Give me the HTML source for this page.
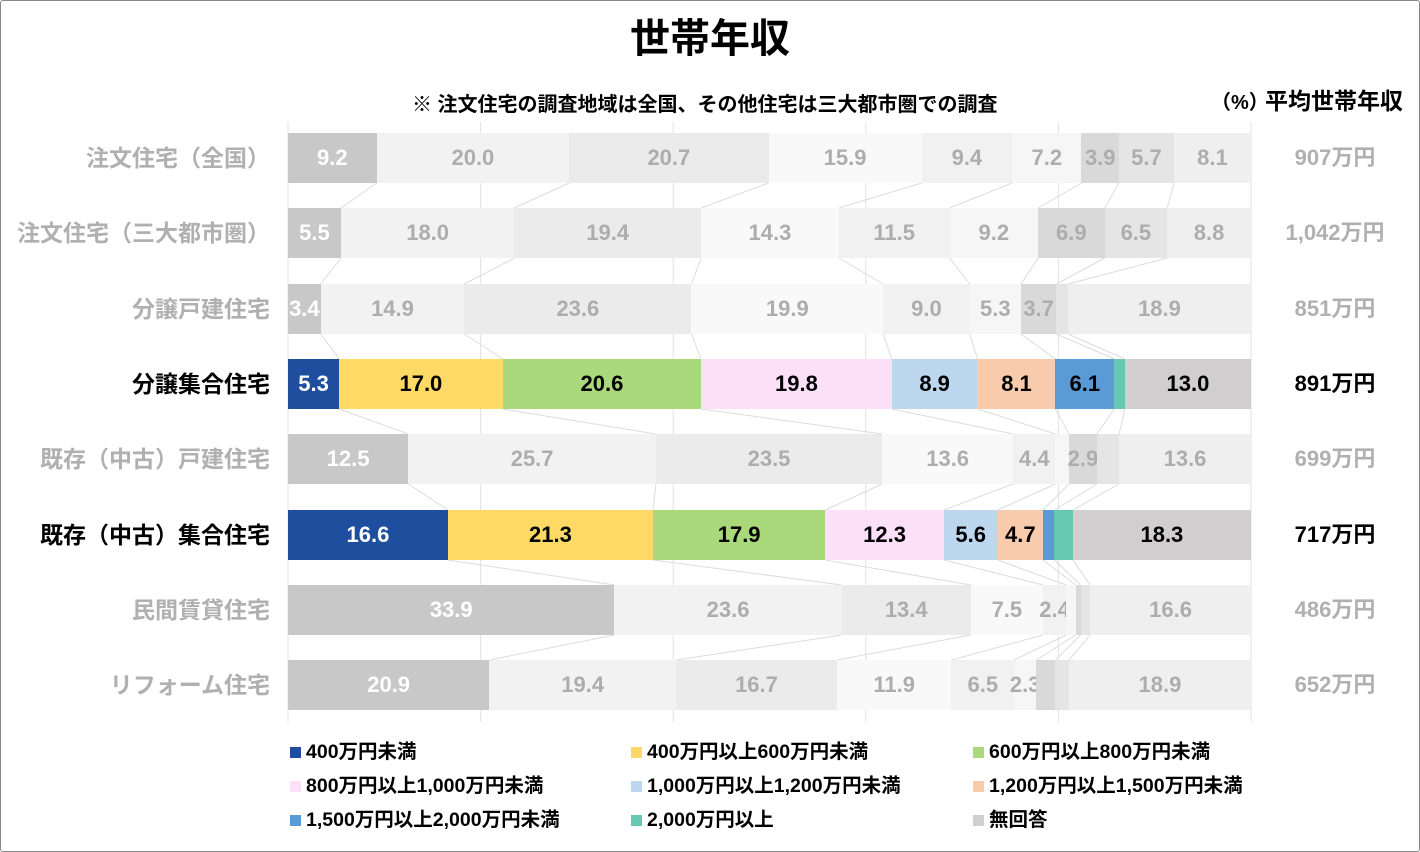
<!DOCTYPE html>
<html><head><meta charset="utf-8">
<style>
*{margin:0;padding:0;box-sizing:border-box}
body{width:1420px;height:852px;background:#fff;font-family:"Liberation Sans","Noto Sans CJK JP",sans-serif;position:relative;overflow:hidden}
.frame{position:absolute;left:0;top:0;width:1420px;height:852px;border:1px solid #888;border-radius:3px}
.abs{position:absolute;white-space:nowrap}
.bar{position:absolute;left:288px;width:963px;height:50px;display:flex}
.bar div{height:50px;line-height:50px;text-align:center;font-size:22px;font-weight:bold;white-space:nowrap;overflow:visible;display:flex;justify-content:center;flex-shrink:0}
.bar div:last-child{flex:1}
.f div{color:#adadad}
.f .a{background:#c8c8c8;color:#fff}.f .b{background:#f2f2f2}.f .c{background:#ebebeb}.f .d{background:#f9f9f9}.f .e{background:#f1f1f1}.f .g{background:#f6f6f6}.f .h{background:#d9d9d9}.f .i{background:#e5e5e5}.f .j{background:#efefef}
.k div{color:#000}
.k .a{background:#1f4e9f;color:#fff}.k .b{background:#ffd966}.k .c{background:#a9d97a}.k .d{background:#fbe0f8}.k .e{background:#bdd7ee}.k .g{background:#f8cbad}.k .h{background:#5b9bd5}.k .i{background:#66c8b0}.k .j{background:#d0cece}
.lab{position:absolute;right:1150px;font-size:23px;font-weight:bold;height:50px;line-height:50px;text-align:right;white-space:nowrap}
.val{position:absolute;left:1265px;width:140px;font-size:22px;font-weight:bold;height:50px;line-height:50px;text-align:center}
.fc{color:#b0b0b0}.kc{color:#000}
.lg{position:absolute;font-size:19.5px;font-weight:bold;white-space:nowrap;line-height:20px}
.lg span{display:inline-block;width:11px;height:11px;margin-right:5px;vertical-align:0px}
</style></head><body>
<div class="frame"></div>
<div class="abs" style="left:0;width:1420px;text-align:center;top:6px;font-size:40px;font-weight:bold;">世帯年収</div>
<div class="abs" style="left:412px;top:88px;font-size:20px;font-weight:bold;">※ 注文住宅の調査地域は全国、その他住宅は三大都市圏での調査</div>
<div class="abs" style="left:1211px;top:86px;font-size:20px;font-weight:bold;">（%）</div>
<div class="abs" style="left:1265px;top:82px;font-size:23px;font-weight:bold;">平均世帯年収</div>

<svg class="abs" style="left:0;top:0" width="1420" height="852" id="grid">
<g stroke="#e2e2e2" stroke-width="1">
<line x1="288" y1="122" x2="288" y2="722"/><line x1="480.6" y1="122" x2="480.6" y2="722"/><line x1="673.2" y1="122" x2="673.2" y2="722"/><line x1="865.8" y1="122" x2="865.8" y2="722"/><line x1="1058.4" y1="122" x2="1058.4" y2="722"/><line x1="1251" y1="122" x2="1251" y2="722"/>
</g><g id="conn" stroke="#dcdcdc" stroke-width="1"></g></svg>

<div class="bar f" style="top:133px"><div class="a" style="width:9.2%">9.2</div><div class="b" style="width:20%">20.0</div><div class="c" style="width:20.7%">20.7</div><div class="d" style="width:15.9%">15.9</div><div class="e" style="width:9.4%">9.4</div><div class="g" style="width:7.2%">7.2</div><div class="h" style="width:3.9%">3.9</div><div class="i" style="width:5.7%">5.7</div><div class="j">8.1</div></div>
<div class="bar f" style="top:208px"><div class="a" style="width:5.5%">5.5</div><div class="b" style="width:18%">18.0</div><div class="c" style="width:19.4%">19.4</div><div class="d" style="width:14.3%">14.3</div><div class="e" style="width:11.5%">11.5</div><div class="g" style="width:9.2%">9.2</div><div class="h" style="width:6.9%">6.9</div><div class="i" style="width:6.5%">6.5</div><div class="j">8.8</div></div>
<div class="bar f" style="top:284px"><div class="a" style="width:3.4%">3.4</div><div class="b" style="width:14.9%">14.9</div><div class="c" style="width:23.6%">23.6</div><div class="d" style="width:19.9%">19.9</div><div class="e" style="width:9%">9.0</div><div class="g" style="width:5.3%">5.3</div><div class="h" style="width:3.7%">3.7</div><div class="i" style="width:1.2%"></div><div class="j">18.9</div></div>
<div class="bar k" style="top:359px"><div class="a" style="width:5.3%">5.3</div><div class="b" style="width:17%">17.0</div><div class="c" style="width:20.6%">20.6</div><div class="d" style="width:19.8%">19.8</div><div class="e" style="width:8.9%">8.9</div><div class="g" style="width:8.1%">8.1</div><div class="h" style="width:6.1%">6.1</div><div class="i" style="width:1.1%"></div><div class="j">13.0</div></div>
<div class="bar f" style="top:434px"><div class="a" style="width:12.5%">12.5</div><div class="b" style="width:25.7%">25.7</div><div class="c" style="width:23.5%">23.5</div><div class="d" style="width:13.6%">13.6</div><div class="e" style="width:4.4%">4.4</div><div class="g" style="width:1.4%"></div><div class="h" style="width:2.9%">2.9</div><div class="i" style="width:2.3%"></div><div class="j">13.6</div></div>
<div class="bar k" style="top:510px"><div class="a" style="width:16.6%">16.6</div><div class="b" style="width:21.3%">21.3</div><div class="c" style="width:17.9%">17.9</div><div class="d" style="width:12.3%">12.3</div><div class="e" style="width:5.6%">5.6</div><div class="g" style="width:4.7%">4.7</div><div class="h" style="width:1.2%"></div><div class="i" style="width:1.9%"></div><div class="j">18.3</div></div>
<div class="bar f" style="top:585px"><div class="a" style="width:33.9%">33.9</div><div class="b" style="width:23.6%">23.6</div><div class="c" style="width:13.4%">13.4</div><div class="d" style="width:7.5%">7.5</div><div class="e" style="width:2.4%">2.4</div><div class="g" style="width:1%"></div><div class="h" style="width:0.5%"></div><div class="i" style="width:1%"></div><div class="j">16.6</div></div>
<div class="bar f" style="top:660px"><div class="a" style="width:20.9%">20.9</div><div class="b" style="width:19.4%">19.4</div><div class="c" style="width:16.7%">16.7</div><div class="d" style="width:11.9%">11.9</div><div class="e" style="width:6.5%">6.5</div><div class="g" style="width:2.3%">2.3</div><div class="h" style="width:2%"></div><div class="i" style="width:1.4%"></div><div class="j">18.9</div></div>

<div class="lab fc" style="top:133px">注文住宅（全国）</div>
<div class="lab fc" style="top:208px">注文住宅（三大都市圏）</div>
<div class="lab fc" style="top:284px">分譲戸建住宅</div>
<div class="lab kc" style="top:359px">分譲集合住宅</div>
<div class="lab fc" style="top:434px">既存（中古）戸建住宅</div>
<div class="lab kc" style="top:510px">既存（中古）集合住宅</div>
<div class="lab fc" style="top:585px">民間賃貸住宅</div>
<div class="lab fc" style="top:660px">リフォーム住宅</div>

<div class="val fc" style="top:133px">907万円</div>
<div class="val fc" style="top:208px">1,042万円</div>
<div class="val fc" style="top:284px">851万円</div>
<div class="val kc" style="top:359px">891万円</div>
<div class="val fc" style="top:434px">699万円</div>
<div class="val kc" style="top:510px">717万円</div>
<div class="val fc" style="top:585px">486万円</div>
<div class="val fc" style="top:660px">652万円</div>

<div class="lg" style="left:290px;top:742px"><span style="background:#1f4e9f"></span>400万円未満</div>
<div class="lg" style="left:631px;top:742px"><span style="background:#ffd966"></span>400万円以上600万円未満</div>
<div class="lg" style="left:973px;top:742px"><span style="background:#a9d97a"></span>600万円以上800万円未満</div>
<div class="lg" style="left:290px;top:776px"><span style="background:#fbe0f8"></span>800万円以上1,000万円未満</div>
<div class="lg" style="left:631px;top:776px"><span style="background:#bdd7ee"></span>1,000万円以上1,200万円未満</div>
<div class="lg" style="left:973px;top:776px"><span style="background:#f8cbad"></span>1,200万円以上1,500万円未満</div>
<div class="lg" style="left:290px;top:810px"><span style="background:#5b9bd5"></span>1,500万円以上2,000万円未満</div>
<div class="lg" style="left:631px;top:810px"><span style="background:#66c8b0"></span>2,000万円以上</div>
<div class="lg" style="left:973px;top:810px"><span style="background:#d0cece"></span>無回答</div>

<script>
var D=[[9.2,20,20.7,15.9,9.4,7.2,3.9,5.7],[5.5,18,19.4,14.3,11.5,9.2,6.9,6.5],[3.4,14.9,23.6,19.9,9,5.3,3.7,1.2],[5.3,17,20.6,19.8,8.9,8.1,6.1,1.1],[12.5,25.7,23.5,13.6,4.4,1.4,2.9,2.3],[16.6,21.3,17.9,12.3,5.6,4.7,1.2,1.9],[33.9,23.6,13.4,7.5,2.4,1,0.5,1],[20.9,19.4,16.7,11.9,6.5,2.3,2,1.4]];
var T=[133,208,284,359,434,510,585,660],g=document.getElementById('conn'),s='';
function cum(r){var c=[],t=0;for(var i=0;i<r.length;i++){t+=r[i];c.push(288+t*9.63);}return c;}
for(var r=0;r<7;r++){var a=cum(D[r]),b=cum(D[r+1]);for(var i=0;i<8;i++){s+='<line x1="'+a[i]+'" y1="'+(T[r]+50)+'" x2="'+b[i]+'" y2="'+T[r+1]+'"/>';}}
g.innerHTML=s;
</script>
</body></html>
